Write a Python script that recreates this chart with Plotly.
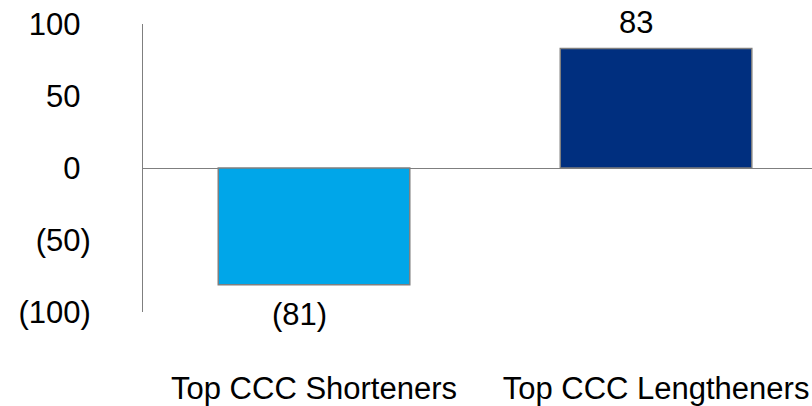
import plotly.graph_objects as go

categories = ["Top CCC Shorteners", "Top CCC Lengtheners"]
values = [-81, 83]
bar_colors = ["#00A6E9", "#002F7F"]
tick_values = [100, 50, 0, -50, -100]

PAD = "<span style='color:rgba(0,0,0,0)'>)</span>"


def acct(v):
    return f"({abs(v)})" if v < 0 else f"{v}{PAD}"


FONT = "Liberation Sans, Arial, sans-serif"

fig = go.Figure()
fig.add_trace(go.Bar(
    x=categories,
    y=values,
    width=0.56,
    marker=dict(color=bar_colors, line=dict(color="#7F7F7F", width=1.5)),
    hoverinfo="skip",
))

for c, v in zip(categories, values):
    fig.add_annotation(
        x=c, y=v, text=acct(v), showarrow=False,
        xanchor="center", yanchor="middle",
        xshift=-14.5, yshift=25.5 if v >= 0 else -29.5,
        font=dict(family=FONT, size=31, color="#000000"),
    )

fig.update_layout(
    width=812, height=406,
    margin=dict(l=143, r=0, t=24, b=94),
    paper_bgcolor="white", plot_bgcolor="white",
    showlegend=False,
    font=dict(family=FONT, color="#000000"),
)
fig.update_xaxes(
    range=[-0.5, 1.456],
    showline=False, showgrid=False, zeroline=False,
    ticks="", ticklabelstandoff=55,
    tickfont=dict(family=FONT, size=31, color="#000000"),
)
fig.update_yaxes(
    range=[-100, 100],
    tickvals=tick_values,
    ticktext=[acct(v) for v in tick_values],
    showline=True, linecolor="#7F7F7F", linewidth=1,
    showgrid=False,
    zeroline=True, zerolinecolor="#7F7F7F", zerolinewidth=1,
    ticks="", ticklabelstandoff=45,
    tickfont=dict(family=FONT, size=31, color="#000000"),
)

fig.write_html("out.html")
